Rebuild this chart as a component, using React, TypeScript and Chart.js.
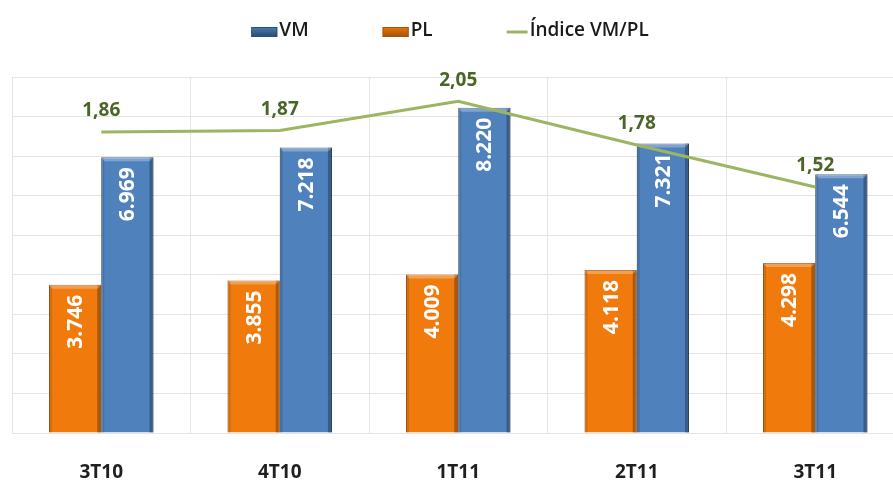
import { useEffect, useRef } from 'react';
import { Chart, registerables } from 'chart.js';

Chart.register(...registerables);

const categories = ['3T10', '4T10', '1T11', '2T11', '3T11'];
const vmValues = [6969, 7218, 8220, 7321, 6544];
const plValues = [3746, 3855, 4009, 4118, 4298];
const indexValues = [1.86, 1.87, 2.05, 1.78, 1.52];
const seriesNames = ['VM', 'PL', 'Índice VM/PL'];

const BLUE = '#4F81BD';
const BLUE_BORDER = '#2C4D75';
const ORANGE = '#F07A0C';
const ORANGE_BORDER = '#A8540A';
const LINE = '#9DB562';
const LABEL_GREEN = '#4A6526';
const FONT = '"Open Sans", "DejaVu Sans", sans-serif';

function fmtThousands(v: number): string {
  return String(v).replace(/\B(?=(\d{3})+(?!\d))/g, '.');
}
function fmtDecimal(v: number): string {
  return v.toFixed(2).replace('.', ',');
}

const barBevel = {
  id: 'barBevel',
  afterDatasetDraw(chart: any, args: any) {
    const meta = args.meta;
    if (meta.type !== 'bar') return;
    const ctx = chart.ctx;
    ctx.save();
    meta.data.forEach((el: any) => {
      const { x, y, base, width } = el.getProps(['x', 'y', 'base', 'width'], true);
      const left = x - width / 2;
      const right = x + width / 2;
      const h = base - y;
      ctx.fillStyle = 'rgba(0,0,0,0.28)';
      ctx.fillRect(right - 4, y, 4, h);
      ctx.fillStyle = 'rgba(0,0,0,0.12)';
      ctx.fillRect(left, y, 3, h);
      ctx.fillStyle = 'rgba(255,255,255,0.28)';
      ctx.beginPath();
      ctx.moveTo(left, y);
      ctx.lineTo(right, y);
      ctx.lineTo(right - 4, y + 4);
      ctx.lineTo(left + 3, y + 4);
      ctx.closePath();
      ctx.fill();
    });
    ctx.restore();
  },
};

const valueLabels = {
  id: 'valueLabels',
  afterDatasetsDraw(chart: any) {
    const ctx = chart.ctx;
    chart.data.datasets.forEach((ds: any, i: number) => {
      const meta = chart.getDatasetMeta(i);
      if (meta.hidden) return;
      meta.data.forEach((el: any, j: number) => {
        const v = ds.data[j] as number;
        ctx.save();
        if (meta.type === 'bar') {
          ctx.translate(el.x, el.y + 10);
          ctx.rotate(-Math.PI / 2);
          ctx.font = `bold 21px ${FONT}`;
          ctx.fillStyle = '#FFFFFF';
          ctx.textAlign = 'right';
          ctx.textBaseline = 'middle';
          ctx.fillText(fmtThousands(v), 0, 1);
        } else {
          ctx.font = `bold 19px ${FONT}`;
          ctx.fillStyle = LABEL_GREEN;
          ctx.textAlign = 'center';
          ctx.textBaseline = 'middle';
          ctx.fillText(fmtDecimal(v), el.x, el.y - 21);
        }
        ctx.restore();
      });
    });
  },
};

const customLegend = {
  id: 'customLegend',
  afterDraw(chart: any) {
    const ctx = chart.ctx;
    const items = [
      { text: seriesNames[0], kind: 'box', color: BLUE, border: BLUE_BORDER },
      { text: seriesNames[1], kind: 'box', color: ORANGE, border: ORANGE_BORDER },
      { text: seriesNames[2], kind: 'line', color: LINE, border: LINE },
    ];
    const swatchW = 26;
    const lineW = 21;
    const textGap = 2;
    const itemGap = 74;
    ctx.save();
    ctx.font = `600 19px ${FONT}`;
    const widths = items.map((it) => (it.kind === 'box' ? swatchW : lineW) + textGap + ctx.measureText(it.text).width);
    const total = widths.reduce((a, b) => a + b, 0) + itemGap * (items.length - 1);
    let x = 450 - total / 2;
    const cy = 31;
    items.forEach((it) => {
      if (it.kind === 'box') {
        const g = ctx.createLinearGradient(0, cy - 5, 0, cy + 5);
        g.addColorStop(0, it.color);
        g.addColorStop(1, it.border);
        ctx.fillStyle = g;
        ctx.fillRect(x, cy - 4, swatchW, 10);
        ctx.strokeStyle = it.border;
        ctx.lineWidth = 1;
        ctx.strokeRect(x + 0.5, cy - 3.5, swatchW - 1, 9);
        x += swatchW + textGap;
      } else {
        ctx.strokeStyle = it.color;
        ctx.lineWidth = 3;
        ctx.beginPath();
        ctx.moveTo(x, cy + 1);
        ctx.lineTo(x + lineW, cy + 1);
        ctx.stroke();
        x += lineW + textGap;
      }
      ctx.fillStyle = '#1A1A1A';
      ctx.textAlign = 'left';
      ctx.textBaseline = 'middle';
      ctx.fillText(it.text, x, cy);
      x += ctx.measureText(it.text).width + itemGap;
    });
    ctx.restore();
  },
};

export default function App() {
  const canvasRef = useRef<HTMLCanvasElement | null>(null);

  useEffect(() => {
    if (!canvasRef.current) return;
    const chart = new Chart(canvasRef.current, {
      type: 'bar',
      data: {
        labels: categories,
        datasets: [
          {
            type: 'line',
            label: seriesNames[2],
            data: indexValues,
            yAxisID: 'y1',
            borderColor: LINE,
            borderWidth: 3,
            pointRadius: 0,
            tension: 0,
            fill: false,
            order: 0,
          } as any,
          {
            type: 'bar',
            label: seriesNames[1],
            data: plValues,
            yAxisID: 'y',
            backgroundColor: ORANGE,
            borderColor: ORANGE_BORDER,
            borderWidth: 1,
            categoryPercentage: 0.585,
            barPercentage: 1,
            order: 1,
          },
          {
            type: 'bar',
            label: seriesNames[0],
            data: vmValues,
            yAxisID: 'y',
            backgroundColor: BLUE,
            borderColor: BLUE_BORDER,
            borderWidth: 1,
            categoryPercentage: 0.585,
            barPercentage: 1,
            order: 1,
          },
        ],
      },
      options: {
        responsive: false,
        animation: false,
        devicePixelRatio: 1,
        layout: { padding: { top: 77, left: 12, right: 4.5, bottom: 2 } },
        plugins: {
          legend: { display: false },
          tooltip: { enabled: false },
        },
        scales: {
          x: {
            grid: { color: '#E4E4E4', drawTicks: false, offset: true },
            border: { color: '#E4E4E4' },
            ticks: {
              color: '#1F1F1F',
              padding: 28,
              font: { family: FONT, size: 19, weight: 'bold' },
            },
            afterFit: (scale: any) => {
              scale.height = 49;
            },
          },
          y: {
            min: 0,
            max: 9000,
            grid: { color: '#E4E4E4', drawTicks: false },
            border: { display: false },
            ticks: { display: false, stepSize: 1000 },
          },
          y1: {
            min: 0,
            max: 2.2,
            display: false,
            position: 'right',
            grid: { drawOnChartArea: false },
          },
        },
      },
      plugins: [barBevel, valueLabels, customLegend],
    });
    return () => chart.destroy();
  }, []);

  return (
    <div
      style={{
        position: 'fixed',
        left: 0,
        top: 0,
        width: 893,
        height: 484,
        overflow: 'hidden',
        background: '#FFFFFF',
      }}
    >
      <canvas ref={canvasRef} width={909} height={484} style={{ display: 'block', width: 909, height: 484 }} />
    </div>
  );
}
